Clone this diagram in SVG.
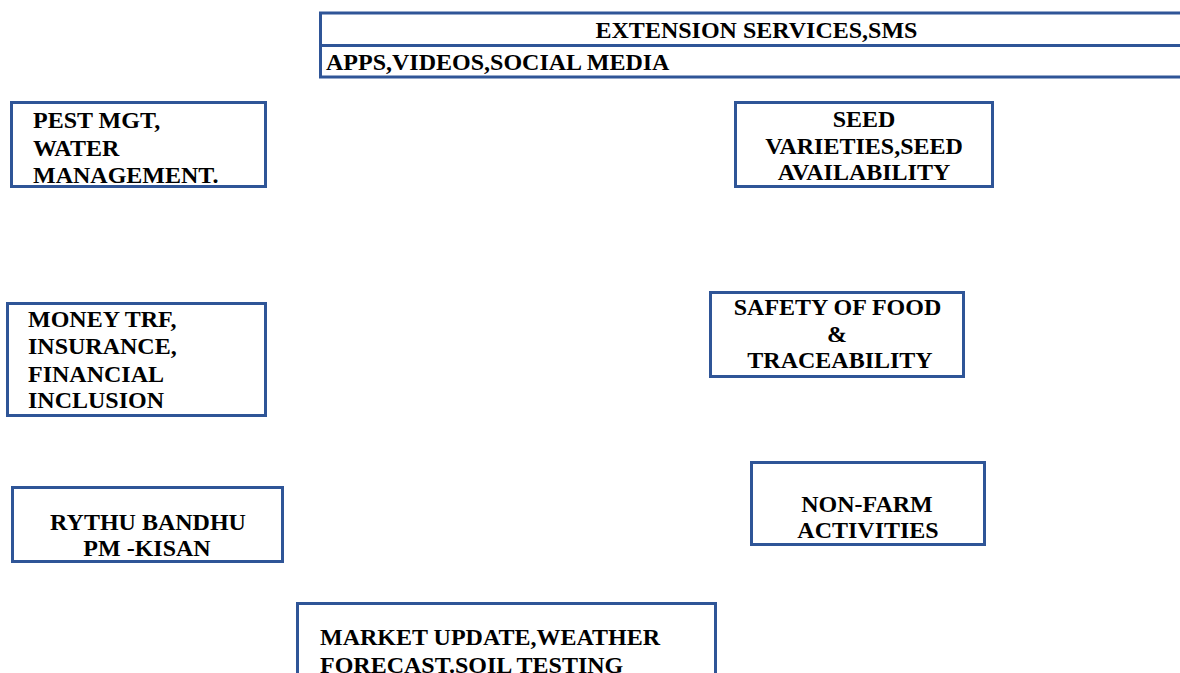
<svg xmlns="http://www.w3.org/2000/svg" width="1180" height="673" viewBox="0 0 1180 673">
<style>
.box{fill:#ffffff;stroke:#2F5597;stroke-width:3}
.t{font-family:"Liberation Serif","Times New Roman",serif;font-weight:bold;font-size:24px;fill:#000000}
.c{text-anchor:middle}
</style>
<rect width="1180" height="673" fill="#ffffff"/>
<g id="extension">
<rect class="box" x="320.5" y="13" width="870" height="32.5"/>
<text class="t c" x="756.5" y="38">EXTENSION SERVICES,SMS</text>
</g>
<g id="apps">
<rect class="box" x="320.5" y="45.5" width="870" height="31.5"/>
<text class="t" x="326" y="70">APPS,VIDEOS,SOCIAL MEDIA</text>
</g>
<g id="pest">
<rect class="box" x="11.5" y="102.5" width="254" height="84"/>
<text class="t" x="33" y="128">PEST MGT,</text>
<text class="t" x="33" y="155.5">WATER</text>
<text class="t" x="33" y="183">MANAGEMENT.</text>
</g>
<g id="seed">
<rect class="box" x="735.5" y="102.5" width="257" height="84"/>
<text class="t c" x="864" y="127">SEED</text>
<text class="t c" x="864" y="153.5">VARIETIES,SEED</text>
<text class="t c" x="864" y="180">AVAILABILITY</text>
</g>
<g id="money">
<rect class="box" x="7.5" y="303.5" width="258" height="112"/>
<text class="t" x="28" y="327">MONEY TRF,</text>
<text class="t" x="28" y="354">INSURANCE,</text>
<text class="t" x="28" y="381.5">FINANCIAL</text>
<text class="t" x="28" y="408">INCLUSION</text>
</g>
<g id="safety">
<rect class="box" x="710.5" y="292.5" width="253" height="84"/>
<text class="t c" x="837.5" y="315">SAFETY OF FOOD</text>
<text class="t c" x="837" y="341.5">&amp;</text>
<text class="t c" x="840" y="368">TRACEABILITY</text>
</g>
<g id="rythu">
<rect class="box" x="12.5" y="487.5" width="270" height="74"/>
<text class="t c" x="148" y="529.5">RYTHU BANDHU</text>
<text class="t c" x="147" y="556">PM -KISAN</text>
</g>
<g id="nonfarm">
<rect class="box" x="751.5" y="462.5" width="233" height="82"/>
<text class="t c" x="867" y="511.5">NON-FARM</text>
<text class="t c" x="868" y="538">ACTIVITIES</text>
</g>
<g id="market">
<rect class="box" x="297.5" y="603.5" width="418" height="100"/>
<text class="t" x="320" y="645">MARKET UPDATE,WEATHER</text>
<text class="t" x="320" y="672.5">FORECAST.SOIL TESTING</text>
</g>
<g id="connectors"></g>
</svg>
